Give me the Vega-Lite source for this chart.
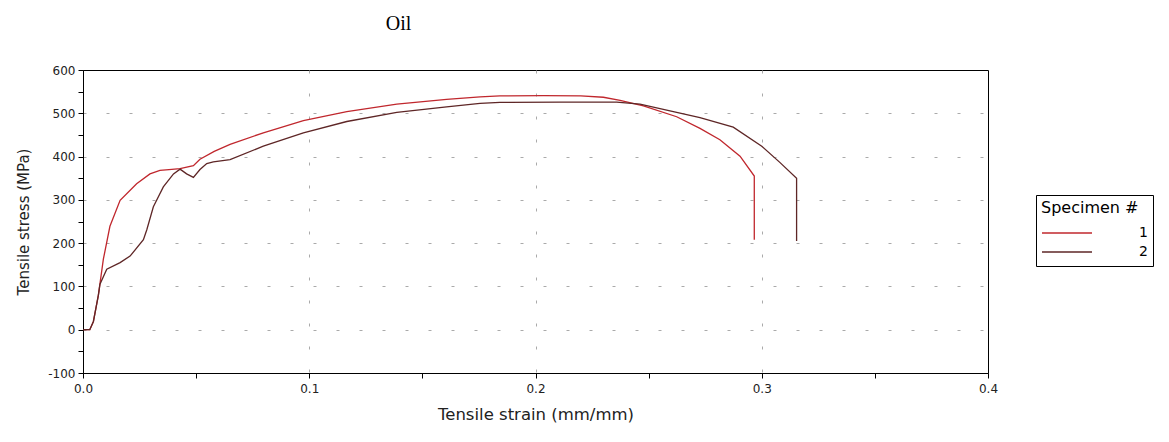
{
  "$schema": "https://vega.github.io/schema/vega-lite/v6.json",
  "autosize": {"type": "none"},
  "padding": {"left": 83, "top": 70, "right": 181, "bottom": 69},
  "width": 905,
  "height": 303,
  "background": "white",
  "title": {"text": "Oil", "font": "Liberation Serif", "fontSize": 20, "fontWeight": "normal", "color": "#000", "anchor": "start", "dx": 369, "offset": 30},
  "config": {
    "view": {"stroke": "#000", "strokeWidth": 1},
    "axis": {"labelFont": "DejaVu Sans", "titleFont": "DejaVu Sans", "labelColor": "#222", "titleColor": "#222", "domainColor": "#000", "tickColor": "#000", "titleFontWeight": "normal"}
  },
  "data": {"values": [
    {"s": "1", "i": 0, "x": 0, "y": 0},
    {"s": "1", "i": 1, "x": 0.003, "y": 0},
    {"s": "1", "i": 2, "x": 0.0046, "y": 19},
    {"s": "1", "i": 3, "x": 0.0068, "y": 80},
    {"s": "1", "i": 4, "x": 0.009, "y": 163},
    {"s": "1", "i": 5, "x": 0.0119, "y": 239},
    {"s": "1", "i": 6, "x": 0.0164, "y": 299},
    {"s": "1", "i": 7, "x": 0.0237, "y": 337},
    {"s": "1", "i": 8, "x": 0.0296, "y": 360},
    {"s": "1", "i": 9, "x": 0.034, "y": 368},
    {"s": "1", "i": 10, "x": 0.038, "y": 370},
    {"s": "1", "i": 11, "x": 0.0429, "y": 372},
    {"s": "1", "i": 12, "x": 0.0488, "y": 379},
    {"s": "1", "i": 13, "x": 0.0517, "y": 394},
    {"s": "1", "i": 14, "x": 0.058, "y": 412},
    {"s": "1", "i": 15, "x": 0.065, "y": 428},
    {"s": "1", "i": 16, "x": 0.0797, "y": 455},
    {"s": "1", "i": 17, "x": 0.0974, "y": 483},
    {"s": "1", "i": 18, "x": 0.1166, "y": 504},
    {"s": "1", "i": 19, "x": 0.1387, "y": 521},
    {"s": "1", "i": 20, "x": 0.1607, "y": 532},
    {"s": "1", "i": 21, "x": 0.1755, "y": 538},
    {"s": "1", "i": 22, "x": 0.1843, "y": 540},
    {"s": "1", "i": 23, "x": 0.2035, "y": 541},
    {"s": "1", "i": 24, "x": 0.22, "y": 540},
    {"s": "1", "i": 25, "x": 0.23, "y": 537},
    {"s": "1", "i": 26, "x": 0.2374, "y": 530},
    {"s": "1", "i": 27, "x": 0.2477, "y": 517},
    {"s": "1", "i": 28, "x": 0.2624, "y": 492},
    {"s": "1", "i": 29, "x": 0.2727, "y": 465},
    {"s": "1", "i": 30, "x": 0.2815, "y": 439},
    {"s": "1", "i": 31, "x": 0.2904, "y": 401},
    {"s": "1", "i": 32, "x": 0.2967, "y": 355},
    {"s": "1", "i": 33, "x": 0.2967, "y": 208},
    {"s": "2", "i": 0, "x": 0, "y": 0},
    {"s": "2", "i": 1, "x": 0.003, "y": 0},
    {"s": "2", "i": 2, "x": 0.0046, "y": 19},
    {"s": "2", "i": 3, "x": 0.0068, "y": 80},
    {"s": "2", "i": 4, "x": 0.0075, "y": 105},
    {"s": "2", "i": 5, "x": 0.0105, "y": 140},
    {"s": "2", "i": 6, "x": 0.0164, "y": 155},
    {"s": "2", "i": 7, "x": 0.0208, "y": 170},
    {"s": "2", "i": 8, "x": 0.0267, "y": 208},
    {"s": "2", "i": 9, "x": 0.0282, "y": 231},
    {"s": "2", "i": 10, "x": 0.0311, "y": 284},
    {"s": "2", "i": 11, "x": 0.0355, "y": 330},
    {"s": "2", "i": 12, "x": 0.04, "y": 360},
    {"s": "2", "i": 13, "x": 0.0429, "y": 371},
    {"s": "2", "i": 14, "x": 0.0458, "y": 360},
    {"s": "2", "i": 15, "x": 0.0488, "y": 352},
    {"s": "2", "i": 16, "x": 0.0517, "y": 370},
    {"s": "2", "i": 17, "x": 0.0547, "y": 384},
    {"s": "2", "i": 18, "x": 0.0576, "y": 388},
    {"s": "2", "i": 19, "x": 0.065, "y": 393},
    {"s": "2", "i": 20, "x": 0.0797, "y": 424},
    {"s": "2", "i": 21, "x": 0.0974, "y": 455},
    {"s": "2", "i": 22, "x": 0.1166, "y": 481},
    {"s": "2", "i": 23, "x": 0.1387, "y": 502},
    {"s": "2", "i": 24, "x": 0.1607, "y": 515},
    {"s": "2", "i": 25, "x": 0.1755, "y": 523},
    {"s": "2", "i": 26, "x": 0.1843, "y": 525},
    {"s": "2", "i": 27, "x": 0.2108, "y": 526},
    {"s": "2", "i": 28, "x": 0.2359, "y": 526},
    {"s": "2", "i": 29, "x": 0.2462, "y": 521},
    {"s": "2", "i": 30, "x": 0.2624, "y": 502},
    {"s": "2", "i": 31, "x": 0.2727, "y": 490},
    {"s": "2", "i": 32, "x": 0.2874, "y": 468},
    {"s": "2", "i": 33, "x": 0.3, "y": 424},
    {"s": "2", "i": 34, "x": 0.3081, "y": 386},
    {"s": "2", "i": 35, "x": 0.3154, "y": 350},
    {"s": "2", "i": 36, "x": 0.3154, "y": 205}
  ]},
  "mark": {"type": "line", "strokeWidth": 1.3, "interpolate": "linear"},
  "encoding": {
    "x": {
      "field": "x", "type": "quantitative",
      "scale": {"domain": [0, 0.4], "nice": false, "zero": false},
      "axis": {
        "title": "Tensile strain (mm/mm)", "titleFontSize": 16.5, "titlePadding": 12,
        "values": [0, 0.05, 0.1, 0.15, 0.2, 0.25, 0.3, 0.35, 0.4],
        "labelExpr": "abs(datum.value*10 - round(datum.value*10)) < 0.001 ? format(datum.value, '.1f') : ''",
        "labelFontSize": 12, "labelFlush": false, "labelOverlap": false, "labelPadding": 5,
        "tickSize": 5,
        "grid": true, "gridColor": "#aaa", "gridDash": [3, 20],
        "gridOpacity": {"condition": {"test": "abs(datum.value*10 - round(datum.value*10)) < 0.001 && datum.value > 0.01 && datum.value < 0.39", "value": 1}, "value": 0}
      }
    },
    "y": {
      "field": "y", "type": "quantitative",
      "scale": {"domain": [-100, 600], "nice": false, "zero": false},
      "axis": {
        "title": "Tensile stress (MPa)", "titleFontSize": 15, "titlePadding": 16,
        "values": [-100, -50, 0, 50, 100, 150, 200, 250, 300, 350, 400, 450, 500, 550, 600],
        "labelExpr": "datum.value % 100 === 0 ? datum.value : ''",
        "labelFontSize": 12, "labelOverlap": false, "labelPadding": 3,
        "tickSize": 5,
        "grid": true, "gridColor": "#aaa", "gridDash": [3, 20],
        "gridOpacity": {"condition": {"test": "datum.value % 100 === 0 && datum.value > -100 && datum.value < 600", "value": 1}, "value": 0}
      }
    },
    "color": {
      "field": "s", "type": "nominal",
      "scale": {"domain": ["1", "2"], "range": ["#c0272d", "#5e2626"]},
      "legend": {
        "title": "Specimen #", "orient": "none", "legendX": 953, "legendY": 125,
        "strokeColor": "#000", "fillColor": "#fff", "padding": 5, "cornerRadius": 0,
        "titleFont": "DejaVu Sans", "titleFontSize": 16, "titleFontWeight": "normal", "titleColor": "#000", "titlePadding": 8,
        "labelFont": "DejaVu Sans", "labelFontSize": 14, "labelColor": "#000", "labelOffset": 46,
        "clipHeight": 18, "rowPadding": 1,
        "symbolType": "stroke", "symbolSize": 2500, "symbolStrokeWidth": 1.3
      }
    },
    "order": {"field": "i", "type": "quantitative"}
  }
}
